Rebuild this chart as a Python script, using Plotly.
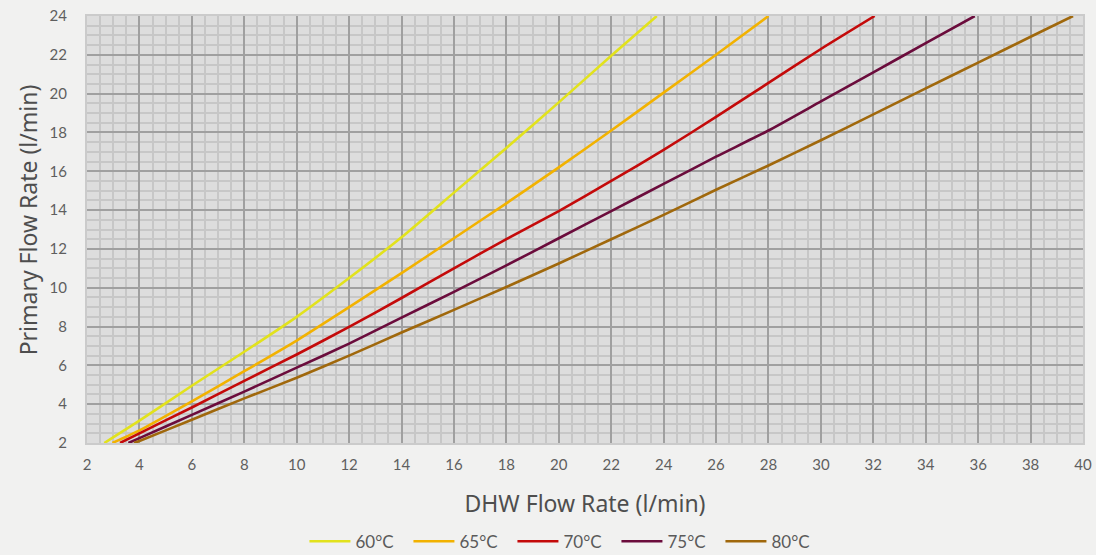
import plotly.graph_objects as go

# DHW flow rate (x) vs primary flow rate (y)
x60 = [2.66, 4, 6, 8, 10, 12, 14, 16, 18, 20, 22, 23.74]
y60 = [2.0, 3.15, 4.95, 6.7, 8.5, 10.5, 12.6, 14.9, 17.2, 19.55, 21.95, 24.0]

x65 = [2.97, 4, 6, 8, 10, 12, 14, 16, 18, 20, 22, 24, 26, 28]
y65 = [2.0, 2.65, 4.15, 5.7, 7.28, 9.0, 10.75, 12.55, 14.35, 16.2, 18.1, 20.05, 22.0, 24.0]

x70 = [3.26, 4, 6, 8, 10, 12, 14, 16, 18, 20, 22, 24, 26, 28, 30, 32.05]
y70 = [2.0, 2.5, 3.83, 5.2, 6.56, 7.98, 9.47, 11.0, 12.5, 13.95, 15.5, 17.1, 18.8, 20.55, 22.3, 24.0]

x75 = [3.58, 4, 6, 8, 10, 12, 14, 16, 18, 20, 22, 24, 26, 28, 30, 32, 34, 35.87]
y75 = [2.0, 2.25, 3.45, 4.65, 5.88, 7.12, 8.46, 9.79, 11.15, 12.55, 13.95, 15.35, 16.75, 18.1, 19.6, 21.1, 22.6, 24.0]

x80 = [3.79, 4, 6, 8, 10, 12, 14, 16, 18, 20, 22, 24, 26, 28, 30, 32, 34, 36, 38, 39.62]
y80 = [2.0, 2.1, 3.2, 4.3, 5.36, 6.5, 7.69, 8.86, 10.04, 11.25, 12.5, 13.75, 15.05, 16.3, 17.6, 18.93, 20.27, 21.6, 22.93, 24.0]

series_names = ["60°C", "65°C", "70°C", "75°C", "80°C"]
series_colors = ["#e2e21c", "#f2b200", "#c40a0a", "#6b0c3c", "#a0680c"]
series_x = [x60, x65, x70, x75, x80]
series_y = [y60, y65, y70, y75, y80]

x_ticks = list(range(2, 41, 2))
y_ticks = list(range(2, 25, 2))

x_title = "DHW Flow Rate (l/min)"
y_title = "Primary Flow Rate (l/min)"

fig = go.Figure()
for name, col, xs, ys in zip(series_names, series_colors, series_x, series_y):
    fig.add_trace(go.Scatter(
        x=xs, y=ys, name=name, mode="lines",
        line=dict(color=col, width=2.6, shape="spline", smoothing=0.5),
    ))

axis_common = dict(
    showgrid=True, gridcolor="#a0a0a0", gridwidth=1.5,
    minor=dict(showgrid=True, gridcolor="#c7c7c7", gridwidth=1.5, dtick=0.5),
    showline=True, mirror=True, linecolor="#cbcbcb", linewidth=2,
    zeroline=False, ticks="", automargin=False,
    tickfont=dict(family="Lato", size=15, color="#5f5f5f"),
)
title_font = dict(family="Noto Sans", size=23, color="#4e4e4e")

fig.update_xaxes(
    range=[2, 40], tickvals=x_ticks, ticklabelstandoff=7,
    title=dict(text=x_title, font=title_font, standoff=24),
    **axis_common,
)
fig.update_yaxes(
    range=[2, 24], tickvals=y_ticks, ticklabelstandoff=15,
    **axis_common,
)

fig.add_annotation(
    text=y_title, textangle=-90, showarrow=False,
    xref="paper", yref="paper", x=-0.059, y=0.522,
    xanchor="center", yanchor="middle", font=title_font,
)

fig.update_layout(
    width=1096, height=555,
    margin=dict(l=87, r=13, t=16, b=112),
    paper_bgcolor="#f1f1f0", plot_bgcolor="#dddddd",
    legend=dict(
        orientation="h", x=0.515, xanchor="center", xref="container",
        y=0.024, yanchor="middle", yref="container",
        font=dict(family="Lato", size=17, color="#5a5a5a"),
        itemwidth=41, entrywidth=48, entrywidthmode="pixels",
        tracegroupgap=0, bgcolor="rgba(0,0,0,0)",
    ),
    showlegend=True,
)

fig.write_html(
    "out.html",
    config={"displayModeBar": False},
    post_script="document.body.style.margin='0';document.body.style.background='#f1f1f0';",
)
